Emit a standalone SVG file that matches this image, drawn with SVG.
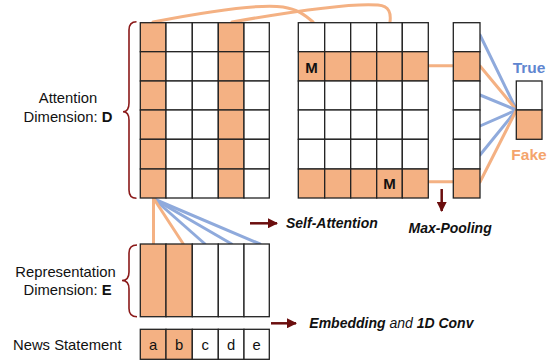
<svg xmlns="http://www.w3.org/2000/svg" width="553" height="362" viewBox="0 0 553 362">
<defs>
<style>
.c{fill:#fff;stroke:#222;stroke-width:1.3}
.o{fill:#F4B183;stroke:#222;stroke-width:1.3}
.lo{stroke:#F4B183;stroke-width:3;fill:none;stroke-linecap:round}
.lb{stroke:#8FAADC;stroke-width:3;fill:none;stroke-linecap:round}
.br{fill:none;stroke:#8B1A1A;stroke-width:1.6}
.t{font-family:"Liberation Sans",Arial,sans-serif;font-size:14.8px;fill:#111}
.lab{font-family:"Liberation Sans",Arial,sans-serif;font-size:14px;font-weight:bold;font-style:italic;fill:#111}
.ar{stroke:#6B0E0E;stroke-width:2.5;fill:none}
</style>
<marker id="ah" viewBox="0 0 10 10" refX="9" refY="5" markerWidth="4" markerHeight="4" orient="auto" markerUnits="strokeWidth">
<path d="M0,0 L10,5 L0,10 z" fill="#6B0E0E"/>
</marker>
</defs>
<rect width="553" height="362" fill="#fff"/>

<g id="connectors">
<path class="lo" d="M153,22 C215,10 262,4 283,7 C297,9 305,15 313,22"/>
<path class="lo" d="M232,22 C300,10 355,3 378,5 C390,6 391,14 390,22"/>
<line class="lo" x1="428" y1="65.7" x2="453" y2="65.7"/>
<line class="lo" x1="428" y1="181.7" x2="453" y2="181.7"/>
<line class="lb" x1="480" y1="35" x2="516.5" y2="110"/>
<line class="lo" x1="480" y1="66" x2="516.5" y2="110"/>
<line class="lb" x1="480" y1="95" x2="516.5" y2="110"/>
<line class="lb" x1="480" y1="126" x2="516.5" y2="110"/>
<line class="lb" x1="480" y1="155" x2="516.5" y2="110"/>
<line class="lo" x1="480" y1="182" x2="516.5" y2="110"/>
<line class="lb" x1="154" y1="199" x2="260" y2="244"/>
<line class="lb" x1="154" y1="199" x2="231.7" y2="244"/>
<line class="lb" x1="154" y1="199" x2="205" y2="244"/>
<line class="lo" x1="154" y1="199" x2="183.3" y2="244"/>
<line class="lo" x1="153.5" y1="199" x2="153.5" y2="244"/>
<line class="ar" x1="250" y1="223.3" x2="277" y2="223.3" marker-end="url(#ah)"/>
<line class="ar" x1="441.7" y1="189" x2="441.7" y2="211" marker-end="url(#ah)"/>
<line class="ar" x1="271" y1="323.3" x2="296" y2="323.3" marker-end="url(#ah)"/>
</g>

<g id="attention-matrix">
<rect class="o" x="140.3" y="22.7" width="25.7" height="29"/><rect class="c" x="166" y="22.7" width="26.3" height="29"/><rect class="c" x="192.3" y="22.7" width="26" height="29"/><rect class="o" x="218.3" y="22.7" width="25.7" height="29"/><rect class="c" x="244" y="22.7" width="25.3" height="29"/>
<rect class="o" x="140.3" y="51.7" width="25.7" height="29.3"/><rect class="c" x="166" y="51.7" width="26.3" height="29.3"/><rect class="c" x="192.3" y="51.7" width="26" height="29.3"/><rect class="o" x="218.3" y="51.7" width="25.7" height="29.3"/><rect class="c" x="244" y="51.7" width="25.3" height="29.3"/>
<rect class="o" x="140.3" y="81" width="25.7" height="29"/><rect class="c" x="166" y="81" width="26.3" height="29"/><rect class="c" x="192.3" y="81" width="26" height="29"/><rect class="o" x="218.3" y="81" width="25.7" height="29"/><rect class="c" x="244" y="81" width="25.3" height="29"/>
<rect class="o" x="140.3" y="110" width="25.7" height="29.3"/><rect class="c" x="166" y="110" width="26.3" height="29.3"/><rect class="c" x="192.3" y="110" width="26" height="29.3"/><rect class="o" x="218.3" y="110" width="25.7" height="29.3"/><rect class="c" x="244" y="110" width="25.3" height="29.3"/>
<rect class="o" x="140.3" y="139.3" width="25.7" height="29.7"/><rect class="c" x="166" y="139.3" width="26.3" height="29.7"/><rect class="c" x="192.3" y="139.3" width="26" height="29.7"/><rect class="o" x="218.3" y="139.3" width="25.7" height="29.7"/><rect class="c" x="244" y="139.3" width="25.3" height="29.7"/>
<rect class="o" x="140.3" y="169" width="25.7" height="29"/><rect class="c" x="166" y="169" width="26.3" height="29"/><rect class="c" x="192.3" y="169" width="26" height="29"/><rect class="o" x="218.3" y="169" width="25.7" height="29"/><rect class="c" x="244" y="169" width="25.3" height="29"/>
</g>

<g id="attention-brace">
<path class="br" d="M136.5,21.7 Q129,21.7 129,30 L129,103 Q129,111.7 123,111.7 Q129,111.7 129,120 L129,190 Q129,198.3 136.5,198.3"/>
<text class="t" x="68" y="103.3" text-anchor="middle">Attention</text>
<text class="t" x="68" y="122.3" text-anchor="middle">Dimension: <tspan font-weight="bold">D</tspan></text>
</g>

<g id="self-attention-matrix">
<rect class="c" x="298.3" y="22.7" width="26.4" height="29"/><rect class="c" x="324.7" y="22.7" width="26" height="29"/><rect class="c" x="350.7" y="22.7" width="26" height="29"/><rect class="c" x="376.7" y="22.7" width="25.6" height="29"/><rect class="c" x="402.3" y="22.7" width="26" height="29"/>
<rect class="o" x="298.3" y="51.7" width="26.4" height="29.3"/><rect class="o" x="324.7" y="51.7" width="26" height="29.3"/><rect class="o" x="350.7" y="51.7" width="26" height="29.3"/><rect class="o" x="376.7" y="51.7" width="25.6" height="29.3"/><rect class="o" x="402.3" y="51.7" width="26" height="29.3"/>
<rect class="c" x="298.3" y="81" width="26.4" height="29"/><rect class="c" x="324.7" y="81" width="26" height="29"/><rect class="c" x="350.7" y="81" width="26" height="29"/><rect class="c" x="376.7" y="81" width="25.6" height="29"/><rect class="c" x="402.3" y="81" width="26" height="29"/>
<rect class="c" x="298.3" y="110" width="26.4" height="29.3"/><rect class="c" x="324.7" y="110" width="26" height="29.3"/><rect class="c" x="350.7" y="110" width="26" height="29.3"/><rect class="c" x="376.7" y="110" width="25.6" height="29.3"/><rect class="c" x="402.3" y="110" width="26" height="29.3"/>
<rect class="c" x="298.3" y="139.3" width="26.4" height="29.7"/><rect class="c" x="324.7" y="139.3" width="26" height="29.7"/><rect class="c" x="350.7" y="139.3" width="26" height="29.7"/><rect class="c" x="376.7" y="139.3" width="25.6" height="29.7"/><rect class="c" x="402.3" y="139.3" width="26" height="29.7"/>
<rect class="o" x="298.3" y="169" width="26.4" height="29"/><rect class="o" x="324.7" y="169" width="26" height="29"/><rect class="o" x="350.7" y="169" width="26" height="29"/><rect class="o" x="376.7" y="169" width="25.6" height="29"/><rect class="o" x="402.3" y="169" width="26" height="29"/>
<text x="311.5" y="73" text-anchor="middle" font-family="Liberation Sans, Arial, sans-serif" font-size="15" font-weight="bold" fill="#111">M</text>
<text x="389.5" y="189" text-anchor="middle" font-family="Liberation Sans, Arial, sans-serif" font-size="15" font-weight="bold" fill="#111">M</text>
</g>

<g id="max-pool-vector">
<rect class="c" x="453.3" y="22.7" width="26.7" height="29"/>
<rect class="o" x="453.3" y="51.7" width="26.7" height="29.3"/>
<rect class="c" x="453.3" y="81" width="26.7" height="29"/>
<rect class="c" x="453.3" y="110" width="26.7" height="29.3"/>
<rect class="c" x="453.3" y="139.3" width="26.7" height="29.7"/>
<rect class="o" x="453.3" y="169" width="26.7" height="29"/>
</g>

<g id="output">
<rect class="c" x="516.3" y="81" width="25.7" height="29"/>
<rect class="o" x="516.3" y="110" width="25.7" height="29.3"/>
<text x="529" y="72.7" text-anchor="middle" font-family="Liberation Sans, Arial, sans-serif" font-size="15.5" font-weight="bold" fill="#5F86D0">True</text>
<text x="529" y="160" text-anchor="middle" font-family="Liberation Sans, Arial, sans-serif" font-size="15.5" font-weight="bold" fill="#F4A46C">Fake</text>
</g>

<g id="representation-matrix">
<rect class="o" x="140.3" y="244" width="25.7" height="72.7"/>
<rect class="o" x="166" y="244" width="26.3" height="72.7"/>
<rect class="c" x="192.3" y="244" width="26" height="72.7"/>
<rect class="c" x="218.3" y="244" width="25.7" height="72.7"/>
<rect class="c" x="244" y="244" width="25.3" height="72.7"/>
</g>

<g id="representation-brace">
<path class="br" d="M137,245 Q129,245 129,253 L129,272 Q129,280.5 122,280.5 Q129,280.5 129,289 L129,308.5 Q129,316.7 137,316.7"/>
<text class="t" x="65.5" y="276.7" text-anchor="middle">Representation</text>
<text class="t" x="67.5" y="295.2" text-anchor="middle">Dimension: <tspan font-weight="bold">E</tspan></text>
</g>

<g id="news-statement">
<rect class="o" x="140.3" y="329.3" width="25.7" height="30"/>
<rect class="o" x="166" y="329.3" width="26.3" height="30"/>
<rect class="c" x="192.3" y="329.3" width="26" height="30"/>
<rect class="c" x="218.3" y="329.3" width="25.7" height="30"/>
<rect class="c" x="244" y="329.3" width="25.3" height="30"/>
<text class="t" x="153.2" y="349.5" text-anchor="middle" font-size="16">a</text>
<text class="t" x="179.2" y="349.5" text-anchor="middle" font-size="16">b</text>
<text class="t" x="205.3" y="349.5" text-anchor="middle" font-size="16">c</text>
<text class="t" x="231.2" y="349.5" text-anchor="middle" font-size="16">d</text>
<text class="t" x="256.7" y="349.5" text-anchor="middle" font-size="16">e</text>
<text class="t" x="67.3" y="350" text-anchor="middle">News Statement</text>
</g>

<g id="labels">
<text class="lab" x="286" y="228">Self-Attention</text>
<text class="lab" x="408.5" y="233.3" font-size="14.2">Max-Pooling</text>
<text class="lab" x="309.3" y="328.3">Embedding <tspan font-weight="normal">and</tspan> 1D Conv</text>
</g>
</svg>
